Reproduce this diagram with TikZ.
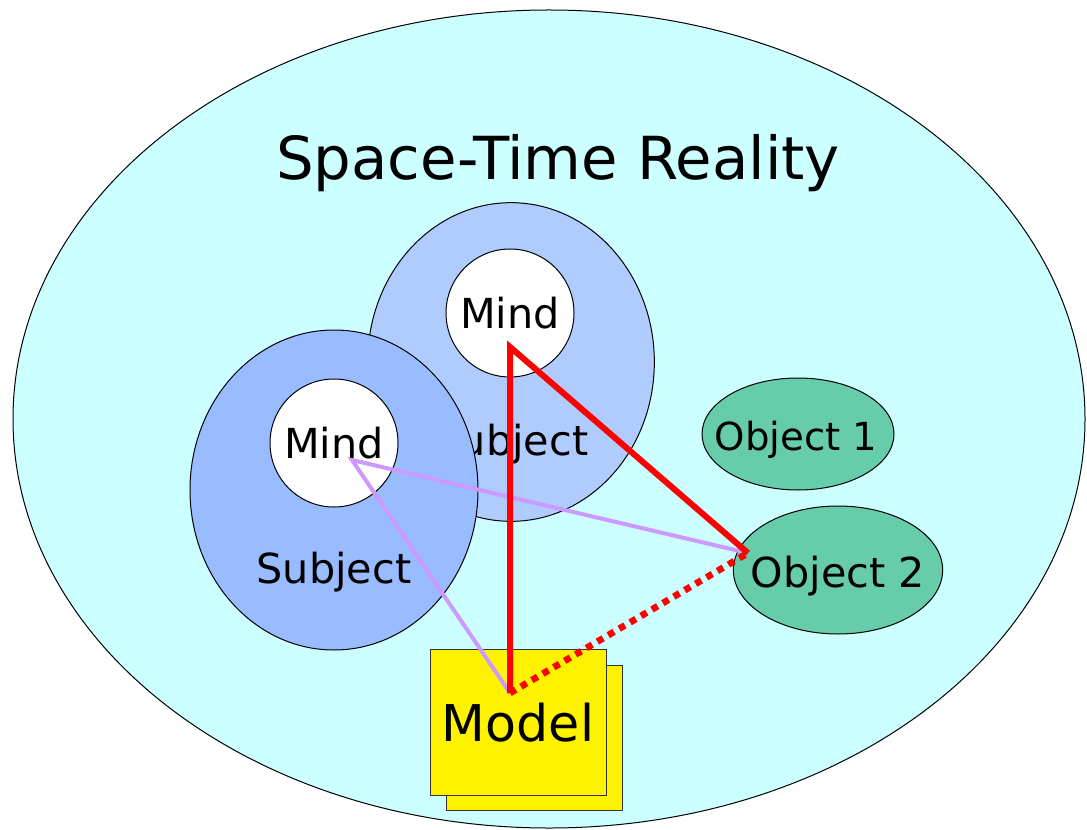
\documentclass[tikz,border=0pt]{standalone}
\usepackage{fontspec}
\setmainfont{DejaVu Sans}
\usetikzlibrary{shapes.geometric}
\definecolor{Reality}{HTML}{CCFFFF}
\definecolor{SubjectBack}{HTML}{B0CCFF}
\definecolor{SubjectFront}{HTML}{99BBFF}
\definecolor{ObjectFill}{HTML}{66CCAA}
\definecolor{Link}{HTML}{CC99FF}

\begin{document}
\begin{tikzpicture}[x=0.75pt,y=-0.75pt,
    blob/.style={draw=black,line width=0.75pt,ellipse,inner sep=0pt},
    mindbox/.style={draw=black,line width=0.75pt,fill=white,circle,inner sep=0pt,minimum size=96pt,font=\fontsize{31}{36}\selectfont},
    objbox/.style={blob,fill=ObjectFill},
    sheet/.style={draw=black!80,line width=0.75pt,fill=yellow,minimum width=132pt,minimum height=109pt,inner sep=0pt},
    strong/.style={red,line width=4.5pt},
    weak/.style={Link,line width=3pt}
  ]
    \useasboundingbox (0,0) rectangle (1087,830);
    \node[blob,fill=Reality,minimum width=804pt,minimum height=613.5pt] (reality) at (549,419) {};
    \node[anchor=base,font=\fontsize{44.5}{52}\selectfont] (title) at (558,180) {Space-Time Reality};
    % the subject at the back
    \node[blob,fill=SubjectBack,minimum width=215pt,minimum height=239pt] (subjectB) at (511,362) {};
    \node[anchor=base,font=\fontsize{31}{36}\selectfont] (subjectBtext) at (511,455) {Subject};
    \node[mindbox] (mindB) at (510,313) {Mind};
    % the subject in front
    \node[blob,fill=SubjectFront,minimum width=216pt,minimum height=240pt] (subjectF) at (334,490) {};
    \node[anchor=base,font=\fontsize{31}{36}\selectfont] (subjectFtext) at (334,583) {Subject};
    \node[mindbox] (mindF) at (334,443) {Mind};
    % objects
    \node[objbox,minimum width=144pt,minimum height=84pt] (obj1) at (798,434) {};
    \node[anchor=base,font=\fontsize{29}{34}\selectfont] (obj1text) at (796,450) {Object 1};
    \node[objbox,minimum width=157pt,minimum height=96pt] (obj2) at (838,570) {};
    \node[anchor=base,font=\fontsize{31}{36}\selectfont] (obj2text) at (838,587) {Object 2};
    % model
    \node[sheet] (modelback) at (534,738) {};
    \node[sheet,text depth=0pt,font=\fontsize{38}{44}\selectfont] (model) at (518,722.5) {Model};
    \coordinate (hubB) at (510,347);
    \coordinate (hubF) at (352,460);
    \coordinate (hubM) at (510,693);
    \coordinate (hubO) at (748,553);
    \draw[weak] (hubM) -- (hubF) -- (hubO);
    \draw[strong,line width=5pt,dash pattern=on 5pt off 4.5pt] (hubM) -- (hubO);
    \draw[strong] (hubM) -- (hubB) -- (hubO);
\end{tikzpicture}
\end{document}
